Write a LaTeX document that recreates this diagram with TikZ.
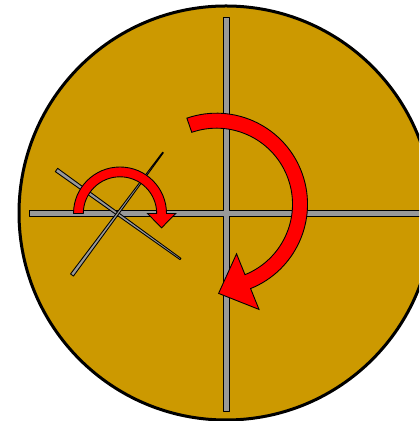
\documentclass[tikz,border=0pt]{standalone}
\usetikzlibrary{calc}
\definecolor{discgold}{RGB}{204,153,0}

\begin{document}
\begin{tikzpicture}[x=0.02cm, y=0.02cm,
    disc/.style={fill=discgold, draw=black, line width=0.06cm},
    bar/.style={fill=black!40, draw=black, line width=0.5pt, line join=round},
    turn/.style={fill=red, draw=black, line width=0.5pt, line join=miter}]
    \useasboundingbox (0,0) rectangle (419,421);
    \clip (0,0) rectangle (419,421);

    % Disc
    \path[disc] (226,208) circle[radius=207];

    % Large cross
    \path[bar] (29,204.5) -- (223.5,204.5) -- (223.5,10) -- (229.5,10) -- (229.5,204.5)
        -- (425,204.5) -- (425,210.5) -- (229.5,210.5) -- (229.5,404) -- (223.5,404)
        -- (223.5,210.5) -- (29,210.5) -- cycle;

    % Small tilted cross
    \coordinate (a1) at (56.5,251);
    \coordinate (a2) at (180.5,162);
    \coordinate (b1) at (72,146);
    \coordinate (b2) at (163,268.5);
    \path[bar] ($(a1)!0.04cm!90:(a2)$) -- ($(a2)!0.016cm!-90:(a1)$)
        -- ($(a2)!0.016cm!90:(a1)$) -- ($(a1)!0.04cm!-90:(a2)$) -- cycle;
    \path[bar] ($(b1)!0.036cm!90:(b2)$) -- ($(b2)!0.01cm!-90:(b1)$)
        -- ($(b2)!0.01cm!90:(b1)$) -- ($(b1)!0.036cm!-90:(b2)$) -- cycle;

    % Small turn arrow
    \path[turn, shift={(120,207.5)}] (180:46.5) arc[start angle=180, end angle=0, radius=46.5]
        -- (0:55.8) -- (41.6,-14.3) -- (0:27.4) -- (0:36.7)
        arc[start angle=0, end angle=180, radius=36.7] -- cycle;

    % Large turn arrow
    \path[turn, shift={(216.5,216.8)}] (109:91) arc[start angle=109, end angle=-68, radius=91]
        -- (-68:113.5) -- (2.08,-89.2) -- (-68:53.5) -- (-68:76)
        arc[start angle=-68, end angle=109, radius=76] -- cycle;
\end{tikzpicture}
\end{document}
